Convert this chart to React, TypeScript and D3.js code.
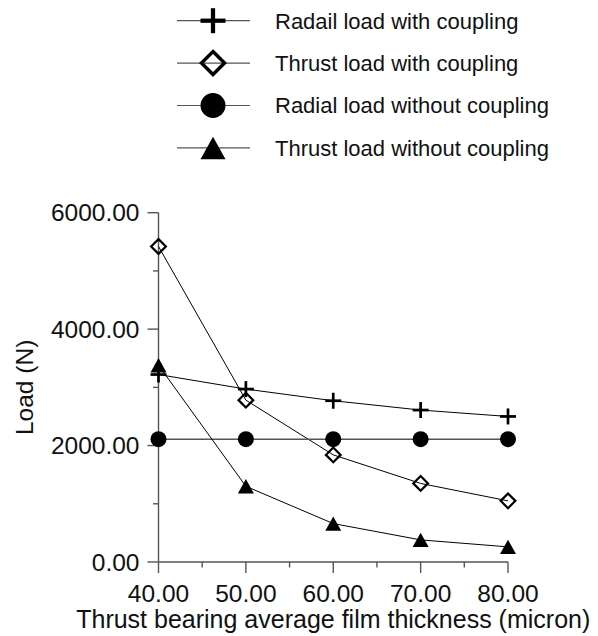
import React from 'react';
import * as d3 from 'd3';

const thickness = [40, 50, 60, 70, 80];
const radialWith = [3220, 2970, 2770, 2610, 2500];
const thrustWith = [5420, 2780, 1840, 1350, 1050];
const radialWithout = [2110, 2110, 2110, 2110, 2110];
const thrustWithout = [3380, 1300, 660, 380, 260];

const seriesNames = [
  'Radail load with coupling',
  'Thrust load with coupling',
  'Radial load without coupling',
  'Thrust load without coupling',
];
const markerKinds = ['plus', 'diamond', 'circle', 'triangle'];

const xMajor = [40, 50, 60, 70, 80];
const xMinor = [45, 55, 65, 75];
const yMajor = [0, 2000, 4000, 6000];
const yMinor = [1000, 3000, 5000];

const FONT = '"Liberation Sans", Arial, sans-serif';

function Marker({ kind, cx, cy, s }: { kind: string; cx: number; cy: number; s: number }) {
  const h = s / 2;
  if (kind === 'plus') {
    return (
      <g stroke="#000" strokeWidth={s * 0.17} fill="none">
        <line x1={cx - h} x2={cx + h} y1={cy} y2={cy} />
        <line x1={cx} x2={cx} y1={cy - h} y2={cy + h} />
      </g>
    );
  }
  if (kind === 'diamond') {
    const d = h * 0.92;
    return (
      <path
        d={`M${cx},${cy - d}L${cx + d},${cy}L${cx},${cy + d}L${cx - d},${cy}Z`}
        fill="none"
        stroke="#000"
        strokeWidth={s * 0.14}
      />
    );
  }
  if (kind === 'circle') {
    return <circle cx={cx} cy={cy} r={h} fill="#000" />;
  }
  const th = s * 0.9;
  return (
    <path
      d={`M${cx},${cy - th / 2}L${cx + h},${cy + th / 2}L${cx - h},${cy + th / 2}Z`}
      fill="#000"
    />
  );
}

export default function App() {
  const width = 598;
  const height = 636;

  const x = d3.scaleLinear().domain([40, 80]).range([158.5, 508]);
  const y = d3.scaleLinear().domain([0, 6000]).range([562, 212.7]);
  const fmt = d3.format('.2f');

  const allSeries = [radialWith, thrustWith, radialWithout, thrustWithout];
  const line = d3
    .line<number>()
    .x((_, i) => x(thickness[i]))
    .y((d) => y(d));

  const axisColor = '#555';

  return (
    <svg
      width={width}
      height={height}
      style={{ position: 'absolute', left: 0, top: 0, background: '#fff' }}
      fontFamily={FONT}
    >
      {/* Legend */}
      {seriesNames.map((name, i) => {
        const ly = 20.7 + i * 42.4;
        return (
          <g key={name}>
            <line x1={177} x2={250} y1={ly} y2={ly} stroke="#555" strokeWidth={1.2} />
            <Marker kind={markerKinds[i]} cx={213} cy={ly} s={25} />
            <text x={275} y={ly + 7.8} fontSize={22} fill="#111">
              {name}
            </text>
          </g>
        );
      })}

      {/* Axes */}
      <line x1={x(40)} x2={x(40)} y1={y(6000)} y2={y(0)} stroke={axisColor} strokeWidth={1.4} />
      <line x1={x(40)} x2={x(80)} y1={y(0)} y2={y(0)} stroke={axisColor} strokeWidth={1.4} />
      {yMajor.map((v) => (
        <g key={'ym' + v}>
          <line x1={x(40) - 11} x2={x(40)} y1={y(v)} y2={y(v)} stroke={axisColor} strokeWidth={1.4} />
          <text
            x={139.5}
            y={y(v)}
            dy="0.35em"
            textAnchor="end"
            fontSize={24.5}
            fill="#111"
          >
            {fmt(v)}
          </text>
        </g>
      ))}
      {yMinor.map((v) => (
        <line key={'yn' + v} x1={x(40) - 5.5} x2={x(40)} y1={y(v)} y2={y(v)} stroke={axisColor} strokeWidth={1.4} />
      ))}
      {xMajor.map((v) => (
        <g key={'xm' + v}>
          <line x1={x(v)} x2={x(v)} y1={y(0)} y2={y(0) + 11} stroke={axisColor} strokeWidth={1.4} />
          <text x={x(v)} y={602} textAnchor="middle" fontSize={24.5} fill="#111">
            {fmt(v)}
          </text>
        </g>
      ))}
      {xMinor.map((v) => (
        <line key={'xn' + v} x1={x(v)} x2={x(v)} y1={y(0)} y2={y(0) + 5.5} stroke={axisColor} strokeWidth={1.4} />
      ))}

      <text
        x={(x(40) + x(80)) / 2}
        y={628}
        textAnchor="middle"
        fontSize={25}
        fill="#111"
      >
        Thrust bearing average film thickness (micron)
      </text>
      <text
        transform={`translate(33,${(y(0) + y(6000)) / 2}) rotate(-90)`}
        textAnchor="middle"
        fontSize={24.5}
        fill="#111"
      >
        Load (N)
      </text>

      {/* Series lines */}
      {allSeries.map((s, i) => (
        <path
          key={'l' + i}
          d={line(s) || ''}
          fill="none"
          stroke={i === 2 ? '#555' : '#000'}
          strokeWidth={i === 2 ? 1.5 : 1}
        />
      ))}

      {/* Markers */}
      {allSeries.map((s, i) =>
        s.map((v, j) => (
          <Marker key={'m' + i + '-' + j} kind={markerKinds[i]} cx={x(thickness[j])} cy={y(v)} s={16} />
        ))
      )}
    </svg>
  );
}
